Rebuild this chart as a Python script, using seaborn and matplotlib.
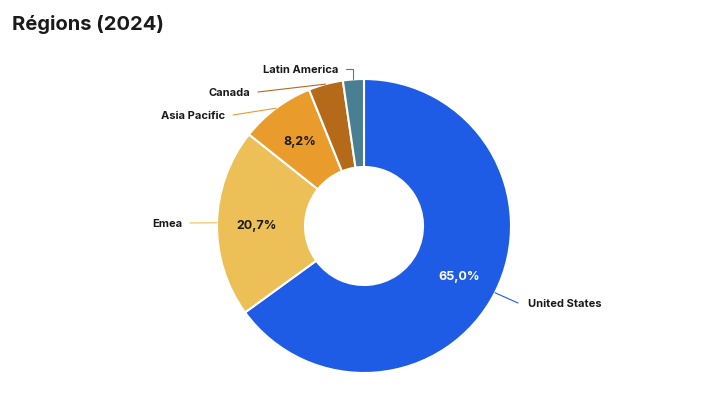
import numpy as np
import seaborn as sns
import matplotlib.pyplot as plt


regions = ["United States", "Emea", "Asia Pacific", "Canada", "Latin America"]
shares = [65.0, 20.7, 8.2, 3.8, 2.3]
colors = ["#1f5ce6", "#ecc056", "#e99c2b", "#b56a1a", "#4a7e92"]
show_pct = [True, True, True, False, False]
pct_labels = ["65,0%", "20,7%", "8,2%", "", ""]

# label layout, in pixels from top-left (x is the text edge next to the line)
label_pos = [(528, 304), (182, 224), (225, 116), (250, 93), (338, 70)]
label_ha = ["left", "right", "right", "right", "right"]
elbow = [False, False, False, False, True]

W, H = 727, 410
cx, cy = 364, 227
r_out, r_in = 147, 59

sns.set_theme(style="white")
plt.rcParams['font.family'] = ['Inter', 'DejaVu Sans']
pal = sns.color_palette(colors)

fig = plt.figure(figsize=(W / 100, H / 100), dpi=100)
ax = fig.add_axes([0, 0, 1, 1])

# y-up pixel coords: flip
wedges, _ = ax.pie(shares, colors=pal, startangle=90, counterclock=False,
                   radius=r_out, center=(cx, H - cy),
                   wedgeprops=dict(width=r_out - r_in, edgecolor="white", linewidth=1.5))
ax.set_xlim(0, W)
ax.set_ylim(0, H)
ax.set_aspect("equal")
ax.axis("off")

r_mid = 107
for i, w in enumerate(wedges):
    ang = np.deg2rad((w.theta1 + w.theta2) / 2)
    if show_pct[i]:
        tc = "white" if i == 0 else "#1a1a1a"
        ax.text(cx + r_mid * np.cos(ang), H - cy + r_mid * np.sin(ang) - 1, pct_labels[i],
                ha="center", va="center", fontsize=9, fontweight="bold", color=tc)
    ox, oy = cx + r_out * np.cos(ang), H - cy + r_out * np.sin(ang)
    tx, ty = label_pos[i]
    ty = H - ty
    gap = -10 if label_ha[i] == "left" else 8
    ex = tx + gap
    if elbow[i]:
        xs, ys = [ox, ox, ex], [oy, ty, ty]
    else:
        xs, ys = [ox, ex], [oy, ty]
    ax.plot(xs, ys, color=pal[i], lw=0.8)
    ax.text(tx, ty, regions[i], ha=label_ha[i], va="center", fontsize=8,
            fontweight="bold", color="#1a1a1a")

fig.text(12 / W, 1 - 24 / H, "Régions (2024)", ha="left", va="center",
         fontsize=14.5, fontweight="bold", color="#1a1a1a")

fig.savefig("out.png", dpi=100)
